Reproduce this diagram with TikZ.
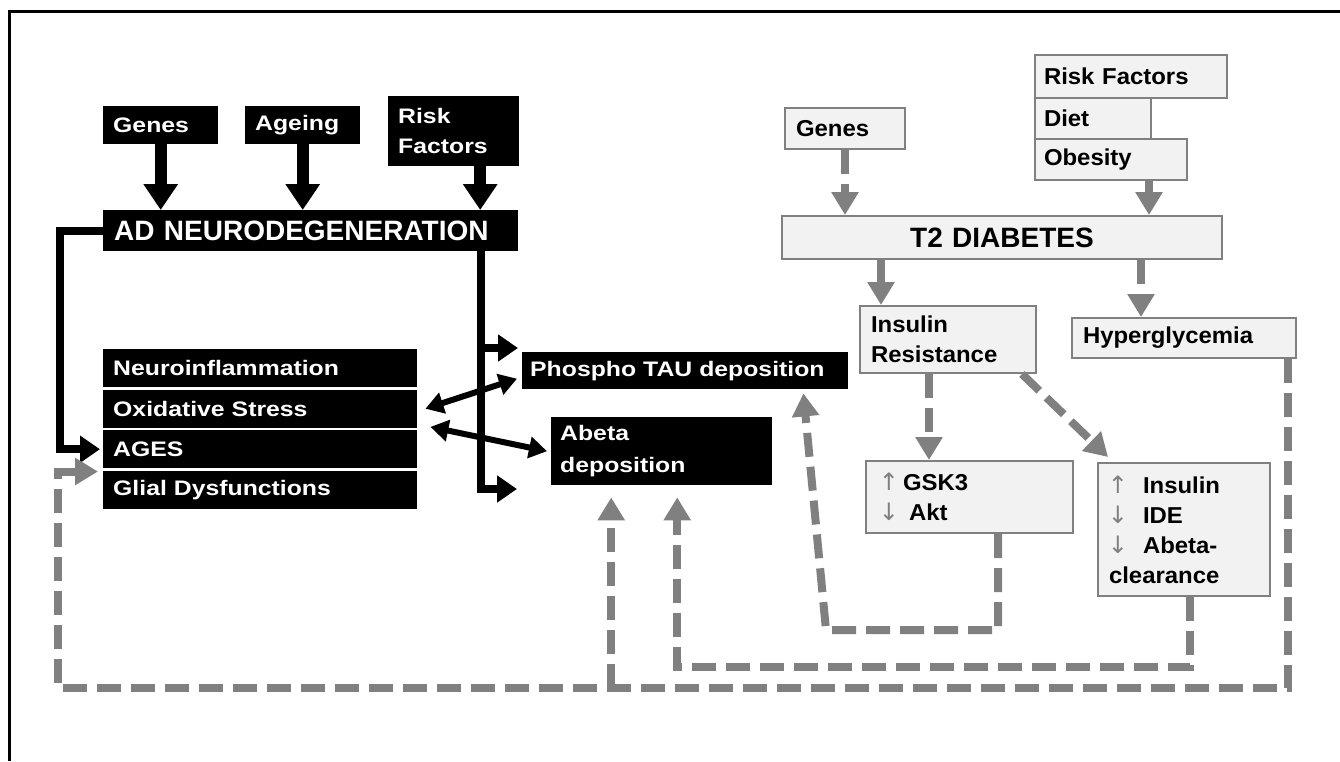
\documentclass[tikz,border=0pt]{standalone}
\usepackage{fontspec}
\setmainfont{Liberation Sans}
\newfontfamily\lf[FakeStretch=1.18]{Liberation Sans}
\newfontfamily\rf[FakeStretch=1.04]{Liberation Sans}
\newfontfamily\symf{DejaVu Sans}
\usetikzlibrary{arrows.meta}
\definecolor{lgray}{HTML}{808080}
\definecolor{gfill}{HTML}{F2F2F2}
\newcommand\upar{\textcolor{lgray}{\symf\mdseries\fontsize{24}{24}\selectfont ↑}}
\newcommand\dnar{\textcolor{lgray}{\symf\mdseries\fontsize{24}{24}\selectfont ↓}}
\begin{document}
\begin{tikzpicture}[x=1pt,y=-1pt,
  bbox/.style={fill=black, text=white, font=\lf\bfseries\fontsize{21}{30}\selectfont,
    inner xsep=10pt, inner ysep=0pt, align=left, anchor=north west},
  gbox/.style={fill=gfill, draw=lgray, line width=2pt, text=black,
    font=\rf\bfseries\fontsize{23}{30}\selectfont,
    inner xsep=10pt, inner ysep=0pt, align=left, anchor=north west},
  barrow/.style={line width=12pt, -{Triangle[width=33pt,length=26pt]}},
  bline/.style={line width=8pt},
  btip/.style={-{Triangle[width=26pt,length=20pt]}},
  dbl/.style={line width=6pt, {Triangle[width=21pt,length=18pt]}-{Triangle[width=21pt,length=18pt]}},
  garrow/.style={draw=lgray, line width=8pt, dash pattern=on 24pt off 10pt,
    -{Triangle[width=26pt,length=23pt]}}
]
\useasboundingbox (0,0) rectangle (1340,761);
\draw[line width=3pt] (9.5,761) -- (9.5,11) -- (1340,11);

% ---- left (AD) side ----
\node[bbox, minimum width=115pt, minimum height=38pt, text width=95pt] (gL) at (103,106) {Genes};
\node[bbox, minimum width=115pt, minimum height=38pt, text width=95pt] (aL) at (245,106) {Ageing};
\node[bbox, minimum width=131pt, minimum height=70pt, text width=111pt] (rL) at (388,96) {Risk\\Factors};
\node[bbox, font=\bfseries\fontsize{28}{30}\selectfont, inner xsep=11pt,
  minimum width=415pt, minimum height=41pt, text width=393pt] (ad) at (103,210) {AD NEURODEGENERATION};

\node[bbox, minimum width=314pt, minimum height=38pt, text width=294pt] (ni) at (103,349) {Neuroinflammation};
\node[bbox, minimum width=314pt, minimum height=38pt, text width=294pt] (os) at (103,389.5) {Oxidative Stress};
\node[bbox, minimum width=314pt, minimum height=38pt, text width=294pt] (ag) at (103,430) {AGES};
\node[bbox, minimum width=314pt, minimum height=38pt, text width=294pt] (gd) at (103,470.5) {Glial Dysfunctions};

\node[bbox, inner xsep=8pt, minimum width=326pt, minimum height=37pt, text width=310pt] (pt) at (522,352) {Phospho TAU deposition};
\node[bbox, inner xsep=9pt, minimum width=221pt, minimum height=68pt, text width=203pt,
  font=\lf\bfseries\fontsize{21}{32}\selectfont] (ab) at (551,417) {Abeta\\deposition};

% ---- right (T2D) side ----
\node[gbox, inner xsep=11pt, minimum width=120pt, minimum height=41pt, text width=98pt] (gR) at (784,107) {Genes};
\node[gbox, inner xsep=9pt, minimum width=192pt, minimum height=43pt, text width=174pt] (rR) at (1034,54) {Risk Factors};
\node[gbox, inner xsep=9pt, minimum width=116pt, minimum height=41pt, text width=98pt] (di) at (1034,97) {Diet};
\node[gbox, inner xsep=9pt, minimum width=152pt, minimum height=41pt, text width=134pt] (ob) at (1034,138) {Obesity};
\node[gbox, font=\bfseries\fontsize{28}{30}\selectfont, align=center,
  minimum width=440pt, minimum height=43pt, text width=420pt] (t2) at (781,215) {T2 DIABETES};
\node[gbox, inner xsep=11pt, minimum width=176pt, minimum height=67pt, text width=154pt] (ir) at (859,305) {Insulin\\Resistance};
\node[gbox, inner xsep=11pt, minimum width=224pt, minimum height=40pt, text width=202pt] (hy) at (1071,317) {Hyperglycemia};
\node[gbox, minimum width=207pt, minimum height=72pt, text width=187pt] (gs) at (865,460)
  {\hspace*{3pt}\makebox[20pt][c]{\upar}\hspace{4pt}GSK3\\\hspace*{3pt}\makebox[20pt][c]{\dnar}\hspace{10pt}Akt};
\node[gbox, inner xsep=11pt, minimum width=172pt, minimum height=133pt, text width=150pt] (id) at (1097,462)
  {\makebox[18pt][c]{\upar}\hspace{16pt}Insulin\\\makebox[18pt][c]{\dnar}\hspace{16pt}IDE\\\makebox[18pt][c]{\dnar}\hspace{16pt}Abeta-\\clearance};

% ---- black connectors ----
\draw[barrow] (gL.south) -- (gL.south |- ad.north);
\draw[barrow] (aL.south) -- (aL.south |- ad.north);
\coordinate (rLout) at ([xshift=26.5pt]rL.south);
\draw[barrow] (rLout) -- (rLout |- ad.north);

\draw[bline, btip, shorten >=3pt] (ad.west) -- ++(-43,0) |- (ag.west);

\coordinate (vtop) at ([xshift=170.5pt]ad.south);
\coordinate (tipA) at (518,348);
\coordinate (tipB) at (517,489);
\draw[bline, btip] (vtop) |- (tipB);
\draw[bline, btip] (vtop |- tipA) -- (tipA);

\draw[dbl] ([xshift=8pt]os.east) -- ([xshift=-5pt,yshift=-8pt]pt.west);
\draw[dbl] ([xshift=13pt,yshift=1pt]os.south east) -- ([xshift=-4pt]ab.west);

% ---- gray connectors ----
\draw[garrow] (gR.south) -- (gR.south |- t2.north);
\coordinate (obout) at ([xshift=38pt]ob.south);
\draw[garrow] (obout) -- (obout |- t2.north);
\coordinate (irin) at ([xshift=-67pt]ir.north);
\draw[garrow] (t2.south -| irin) -- (irin);
\coordinate (hyin) at ([xshift=-43pt]hy.north);
\draw[garrow] (t2.south -| hyin) -- (hyin);
\coordinate (gsin) at ([xshift=-40.5pt]gs.north);
\draw[garrow] (ir.south -| gsin) -- (gsin);
\draw[garrow] ([xshift=-15pt]ir.south east) -- ([xshift=11pt,yshift=5pt]id.north west);

\coordinate (hyout) at ([xshift=-9pt]hy.south east);
\coordinate (botL) at (58,688);
\coordinate (gdin) at ([xshift=-5pt,yshift=-1pt]gd.north west);
\draw[garrow] (hyout) |- (botL) |- (gdin);

\coordinate (abin1) at ([xshift=-50.5pt,yshift=-12pt]ab.south);
\draw[garrow] (abin1 |- botL) -- (abin1);

\coordinate (idout) at ([xshift=5.5pt]id.south);
\coordinate (abin2) at ([xshift=15.5pt,yshift=-12pt]ab.south);
\draw[garrow] (idout) -- ++(0,70) -| (abin2);

\coordinate (gsout) at ([xshift=28.5pt]gs.south);
\coordinate (ptin) at ([xshift=-45pt,yshift=-4pt]pt.south east);
\draw[garrow] (gsout) -- ++(0,96) -- ++(-172,0) -- (ptin);
\end{tikzpicture}
\end{document}
